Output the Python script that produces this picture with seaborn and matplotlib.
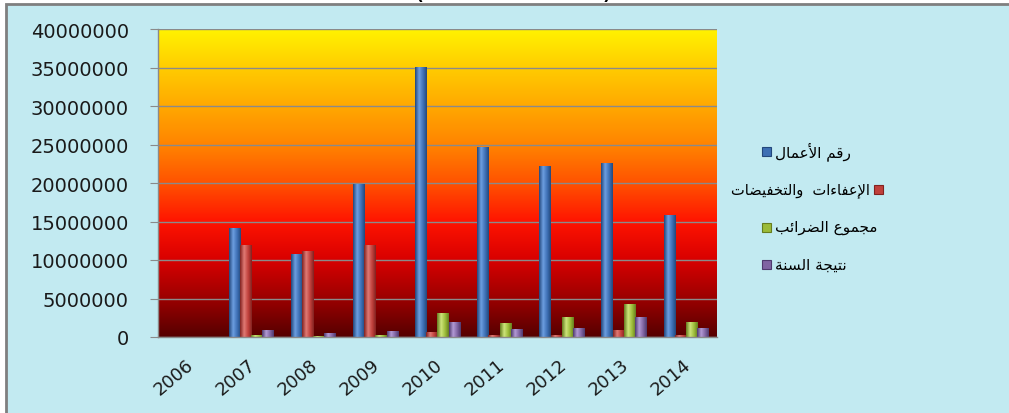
import numpy as np
import pandas as pd
import matplotlib
matplotlib.use('Agg')
import matplotlib.pyplot as plt
import matplotlib.transforms as mtransforms
from matplotlib.colors import LinearSegmentedColormap
from matplotlib.patches import Rectangle
import seaborn as sns

# data
years = ['2006', '2007', '2008', '2009', '2010', '2011', '2012', '2013', '2014']
series = ['رقم الأعمال', 'الإعفاءات  والتخفيضات', 'مجموع الضرائب', 'نتيجة السنة']
turnover = [0, 14.1e6, 10.8e6, 19.9e6, 35.1e6, 24.7e6, 22.2e6, 22.6e6, 15.8e6]
exemptions = [0, 12.0e6, 11.2e6, 11.9e6, 0.7e6, 0.3e6, 0.2e6, 0.9e6, 0.3e6]
taxes = [0, 0.3e6, 0.15e6, 0.3e6, 3.1e6, 1.8e6, 2.6e6, 4.3e6, 1.9e6]
result = [0, 0.9e6, 0.5e6, 0.8e6, 2.0e6, 1.0e6, 1.15e6, 2.6e6, 1.15e6]
yticks = [0, 5e6, 10e6, 15e6, 20e6, 25e6, 30e6, 35e6, 40e6]

colors = ['#3d6fb4', '#c0403b', '#9bbb38', '#8064a2']
shades = [('#23487c', '#6c9ee0'), ('#822220', '#e07a74'),
          ('#667d1f', '#cde47a'), ('#4f3a6e', '#b29ad4')]

# --- tiny arabic shaper (presentation forms, visual order) ---
FORMS = {'ء': (0xFE80, 1), 'أ': (0xFE83, 2), 'إ': (0xFE87, 2), 'ئ': (0xFE89, 4),
         'ا': (0xFE8D, 2), 'ب': (0xFE8F, 4), 'ة': (0xFE93, 2), 'ت': (0xFE95, 4),
         'ج': (0xFE9D, 4), 'خ': (0xFEA5, 4), 'ر': (0xFEAD, 2), 'س': (0xFEB1, 4),
         'ض': (0xFEBD, 4), 'ع': (0xFEC9, 4), 'ف': (0xFED1, 4), 'ق': (0xFED5, 4),
         'ل': (0xFEDD, 4), 'م': (0xFEE1, 4), 'ن': (0xFEE5, 4), 'و': (0xFEED, 2),
         'ي': (0xFEF1, 4)}
LAM_ALEF = {'أ': 0xFEF7, 'إ': 0xFEF9, 'ا': 0xFEFB}


def shape(text):
    units = []
    i = 0
    while i < len(text):
        c = text[i]
        if c == 'ل' and i + 1 < len(text) and text[i + 1] in LAM_ALEF:
            units.append((LAM_ALEF[text[i + 1]], 2))
            i += 2
        elif c in FORMS:
            units.append(FORMS[c])
            i += 1
        else:
            units.append(c)
            i += 1
    out = []
    for k, u in enumerate(units):
        if isinstance(u, str):
            out.append(u)
            continue
        base, n = u
        prev = units[k - 1] if k > 0 else None
        nxt = units[k + 1] if k + 1 < len(units) else None
        jp = isinstance(prev, tuple) and prev[1] == 4 and n > 1
        jn = n == 4 and isinstance(nxt, tuple) and nxt[1] > 1
        out.append(chr(base + {(0, 0): 0, (1, 0): 1, (0, 1): 2, (1, 1): 3}[(int(jp), int(jn))]))
    return ''.join(out[::-1])


df = pd.DataFrame({'year': years, series[0]: turnover, series[1]: exemptions,
                   series[2]: taxes, series[3]: result})
long = df.melt(id_vars='year', var_name='series', value_name='value')

sns.set_style('white')
plt.rcParams['font.family'] = ['DejaVu Sans']

W, H = 1009, 414
fig = plt.figure(figsize=(W / 100, H / 100), dpi=100, facecolor='white')


def fx(x):
    return x / W


def fy(y):
    return 1 - y / H


# water-blue frame
fig.add_artist(Rectangle((fx(6), -0.1), 1.2, fy(5) + 0.1, transform=fig.transFigure,
                         facecolor='#c2eaf1', edgecolor='#7f7f7f', lw=2, zorder=-10))
# title brackets, mostly above the top edge as in the original
fig.text(fx(418), fy(4), '(', fontsize=22, ha='center', va='bottom', color='black')
fig.text(fx(608), fy(4), ')', fontsize=22, ha='center', va='bottom', color='black')

ax = fig.add_axes([fx(158), fy(338), fx(717) - fx(158), fy(30) - fy(338)])

sns.barplot(data=long, x='year', y='value', hue='series', order=years, hue_order=series,
            palette=colors, saturation=1, width=0.72, gap=0, errorbar=None,
            edgecolor='none', legend=False, ax=ax)

# background gradient of the plot area
bg = LinearSegmentedColormap.from_list('bg', [
    (0.0, '#560000'), (0.125, '#9c0000'), (0.25, '#d80000'), (0.375, '#ff1400'),
    (0.5, '#ff5200'), (0.625, '#ff8400'), (0.75, '#ffa800'), (0.875, '#ffcc00'),
    (1.0, '#fff200')])
ax.imshow(np.linspace(0, 1, 256).reshape(-1, 1), extent=[-0.5, 8.5, 0, 40e6],
          origin='lower', aspect='auto', cmap=bg, zorder=0)

# cylinder-like shading on each bar
grad = np.linspace(0, 1, 64).reshape(1, -1)
for cont, (dark, light), base in zip(ax.containers, shades, colors):
    cm = LinearSegmentedColormap.from_list('b', [(0, dark), (0.35, light), (0.7, base), (1, dark)])
    for bar in cont:
        h = bar.get_height()
        if h <= 0:
            continue
        x0 = bar.get_x()
        im = ax.imshow(grad, extent=[x0, x0 + bar.get_width(), 0, h], aspect='auto',
                       cmap=cm, zorder=2)
        im.set_clip_path(bar)

ax.set_xlim(-0.5, 8.5)
ax.set_ylim(0, 40e6)
ax.set_yticks(yticks)
ax.set_yticklabels([str(int(v)) for v in yticks])
ax.yaxis.grid(True, color='#8a8a8a', lw=1)
ax.set_axisbelow(True)
for gl in ax.yaxis.get_gridlines():
    gl.set_zorder(1)
ax.set_xlabel('')
ax.set_ylabel('')

for s in ['top', 'right']:
    ax.spines[s].set_visible(False)
for s in ['left', 'bottom']:
    ax.spines[s].set_color('#8a8a8a')
    ax.spines[s].set_linewidth(1)

ax.set_xticks(np.arange(-0.5, 9, 1), minor=True)
ax.tick_params(axis='x', which='minor', length=6, color='#8a8a8a', direction='out')
ax.tick_params(axis='x', which='major', length=0, pad=13, labelsize=13, labelcolor='#1a1a1a')
ax.tick_params(axis='y', which='major', length=6, color='#8a8a8a', direction='out',
               pad=15, labelsize=14, labelcolor='#1a1a1a', left=True)
offset = mtransforms.ScaledTranslation(8 / 100, 0, fig.dpi_scale_trans)
for lbl in ax.get_xticklabels():
    lbl.set_rotation(40)
    lbl.set_ha('right')
    lbl.set_va('top')
    lbl.set_transform(lbl.get_transform() + offset)

# legend, drawn like the original (second entry has its box on the right)
leg_y = [152, 190, 228, 265]
for k, (name, col) in enumerate(zip(series, colors)):
    y = leg_y[k]
    if k == 1:
        bx = 874
        fig.text(fx(870), fy(y), shape(name), fontsize=10.5, ha='right', va='center', color='black')
    else:
        bx = 762
        fig.text(fx(775), fy(y), shape(name), fontsize=11, ha='left', va='center', color='black')
    fig.add_artist(Rectangle((fx(bx), fy(y + 4.5)), fx(9), 9 / H, transform=fig.transFigure,
                             facecolor=col, edgecolor=shades[k][0], lw=0.8))

fig.savefig('out.png', dpi=100, facecolor=fig.get_facecolor())
